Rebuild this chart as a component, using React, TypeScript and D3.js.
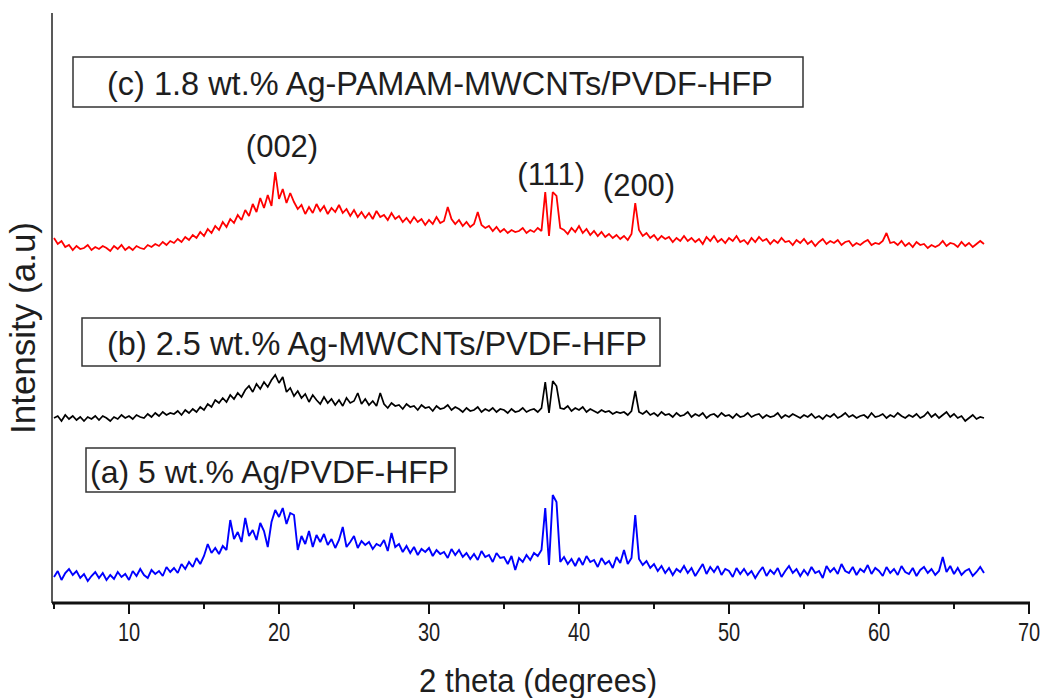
import React from "react";
import * as d3 from "d3";

// 2θ grid of the diffractometer scan (0.25° step, 5° .. 67°)
const thetaStart = 5;
const thetaStep = 0.25;

// (c) 1.8 wt.% Ag-PAMAM-MWCNTs/PVDF-HFP  (red, offset trace)
const seriesC = [
  364, 358, 361, 355,
  357, 352, 356, 353,
  354, 357, 352, 355,
  353, 356, 354, 351,
  356, 353, 357, 352,
  355, 352, 356, 354,
  353, 357, 355, 358,
  356, 360, 357, 361,
  359, 363, 360, 365,
  362, 367, 364, 370,
  366, 373, 369, 376,
  372, 380, 375, 383,
  379, 387, 382, 392,
  386, 398, 390, 404,
  394, 407, 396, 430,
  403, 413, 399, 409,
  400, 393, 397, 388,
  395, 389, 398, 391,
  396, 388, 394, 390,
  397, 389, 393, 386,
  392, 385, 390, 384,
  389, 383, 391, 385,
  387, 382, 389, 383,
  386, 380, 384, 379,
  385, 380, 383, 377,
  382, 378, 385, 379,
  381, 395, 383, 378,
  382, 376, 380, 375,
  378, 390, 377, 374,
  376, 371, 375, 370,
  373, 369, 372, 370,
  371, 374, 369, 372,
  370, 374, 371, 410,
  366, 410, 406, 374,
  372, 368, 374, 370,
  376, 369, 373, 367,
  371, 366, 370, 365,
  368, 364, 367, 363,
  366, 362, 368, 399,
  372, 366, 369, 364,
  367, 362, 366, 363,
  365, 360, 364, 361,
  366, 361, 364, 360,
  363, 358, 365, 361,
  366, 360, 363, 359,
  364, 361, 366, 360,
  362, 358, 364, 360,
  365, 361, 363, 358,
  362, 359, 364, 360,
  361, 357, 362, 359,
  363, 358, 361, 356,
  360, 363, 358, 361,
  359, 362, 357, 360,
  361, 356, 359, 357,
  360, 362, 357, 359,
  358, 361, 369, 359,
  360, 357, 361, 356,
  359, 355, 360, 357,
  358, 354, 357, 355,
  357, 361, 356, 359,
  358, 355, 360, 356,
  359, 355, 358, 361,
  358,
];

// (b) 2.5 wt.% Ag-MWCNTs/PVDF-HFP  (black)
const seriesB = [
  184, 186, 181, 187,
  183, 186, 182, 185,
  181, 185, 183, 186,
  182, 186, 184, 181,
  185, 183, 187, 184,
  186, 183, 187, 185,
  184, 188, 185, 189,
  186, 190, 187, 189,
  188, 191, 187, 192,
  189, 193, 190, 195,
  192, 198, 195, 202,
  199, 204, 200, 207,
  203, 209, 205, 212,
  216, 210, 218, 213,
  220, 215, 222, 227,
  219, 225, 210, 214,
  206, 211, 204, 208,
  200, 207, 202, 198,
  205, 199, 203, 197,
  202, 196, 204, 199,
  201, 209, 198, 203,
  197, 201, 196, 209,
  198, 194, 199, 196,
  197, 193, 198, 195,
  196, 192, 197, 194,
  195, 191, 196, 193,
  194, 197, 192, 195,
  193, 190, 194, 191,
  192, 195, 190, 193,
  191, 194, 190, 193,
  192, 189, 193, 190,
  191, 194, 190, 192,
  193, 190, 194, 220,
  189, 221, 216, 194,
  193, 196, 191, 194,
  192, 195, 190, 193,
  191, 189, 192, 190,
  191, 188, 190, 189,
  190, 187, 191, 211,
  190, 188, 191, 187,
  189, 186, 190, 187,
  188, 185, 189, 186,
  187, 190, 185, 188,
  186, 189, 184, 187,
  188, 185, 189, 186,
  187, 184, 188, 185,
  186, 189, 185, 187,
  188, 184, 187, 185,
  186, 189, 184, 187,
  185, 188, 186, 184,
  187, 185, 188, 184,
  186, 183, 187, 185,
  188, 184, 186, 189,
  185, 187, 184, 186,
  187, 184, 189, 185,
  186, 188, 184, 187,
  185, 189, 186, 184,
  187, 185, 188, 184,
  186, 190, 185, 188,
  184, 187, 190, 185,
  188, 184, 186, 181,
  184, 187, 183, 185,
  184,
];

// (a) 5 wt.% Ag/PVDF-HFP  (blue)
const seriesA = [
  25, 31, 22, 29,
  33, 27, 31, 24,
  28, 21, 26, 30,
  24, 29, 22, 27,
  23, 30, 25, 28,
  22, 31, 26, 33,
  27, 24, 32, 28,
  31, 26, 35, 30,
  34, 29, 38, 33,
  40, 35, 44, 38,
  46, 58, 49, 54,
  48, 56, 52, 82,
  63, 70, 60, 84,
  66, 72, 62, 79,
  71, 55, 80, 92,
  85, 94, 78, 89,
  87, 52, 66, 58,
  71, 55, 67, 60,
  68, 57, 63, 54,
  62, 75, 55, 60,
  66, 54, 61, 57,
  60, 53, 58, 56,
  62, 51, 69, 55,
  58, 50, 56, 49,
  55, 47, 53, 50,
  54, 46, 52, 48,
  50, 44, 53, 47,
  52, 45, 49, 43,
  48, 42, 51, 45,
  47, 40, 49, 44,
  45, 38, 46, 32,
  44, 40, 47, 42,
  49, 46, 52, 94,
  37, 107, 100, 40,
  45, 38, 43, 36,
  44, 37, 46, 40,
  42, 35, 44, 38,
  41, 34, 45, 39,
  52, 38, 44, 87,
  43, 37, 41, 34,
  38, 31, 36, 29,
  34, 27, 33, 30,
  36, 29, 34, 26,
  32, 38, 28, 35,
  30, 36, 27, 33,
  31, 25, 34, 28,
  33, 27, 31, 24,
  30, 35, 26, 32,
  28, 34, 25, 31,
  36, 29, 33, 26,
  32, 27, 35, 29,
  31, 24, 36, 30,
  34, 28, 38, 31,
  29, 35, 27, 33,
  30, 37, 28, 34,
  31, 26, 35, 29,
  33, 27, 36, 30,
  28, 34, 26, 32,
  35, 29, 33, 27,
  31, 45, 30, 36,
  28, 34, 27, 31,
  33, 26, 30, 35,
  29,
];

const majorTicks = [10, 20, 30, 40, 50, 60, 70];
const minorTicks = [5, 15, 25, 35, 45, 55, 65];

const legendLabels = [
  "(c) 1.8 wt.% Ag-PAMAM-MWCNTs/PVDF-HFP",
  "(b) 2.5 wt.% Ag-MWCNTs/PVDF-HFP",
  "(a) 5 wt.% Ag/PVDF-HFP",
];

const peakLabels = ["(002)", "(111)", "(200)"];
const peakPositions = [20.2, 38.15, 44.0];
const peakLabelHeights = [445, 417, 406];

export default function App() {
  const x = d3.scaleLinear().domain([5, 70]).range([54, 1029]);
  const y = d3.scaleLinear().domain([0, 590]).range([602, 12]);
  const twoTheta = seriesA.map((_, i) => thetaStart + i * thetaStep);
  const line = d3
    .line<number>()
    .x((_, i) => x(twoTheta[i]))
    .y((d) => y(d));

  const txt = "#1e1e1e";
  const font = "'Liberation Sans', Arial, sans-serif";
  const axisY = 603;

  return (
    <svg
      width={1041}
      height={698}
      style={{ position: "absolute", left: 0, top: 0, background: "#fff" }}
    >
      <rect x={0} y={0} width={1041} height={698} fill="#fff" />
      {/* traces */}
      <path d={line(seriesA) || ""} fill="none" stroke="#0000ff" strokeWidth={1.9} strokeLinejoin="miter" strokeMiterlimit={2} />
      <path d={line(seriesB) || ""} fill="none" stroke="#000" strokeWidth={1.7} strokeLinejoin="miter" strokeMiterlimit={2} />
      <path d={line(seriesC) || ""} fill="none" stroke="#ff0000" strokeWidth={1.8} strokeLinejoin="miter" strokeMiterlimit={2} />

      {/* axes */}
      <line x1={52} x2={52} y1={13} y2={axisY} stroke="#222" strokeWidth={1.5} />
      <line x1={52} x2={1030} y1={axisY} y2={axisY} stroke="#111" strokeWidth={3} />
      {majorTicks.map((t) => (
        <line key={"M" + t} x1={x(t)} x2={x(t)} y1={axisY} y2={axisY + 11} stroke="#111" strokeWidth={2} />
      ))}
      {minorTicks.map((t) => (
        <line key={"m" + t} x1={x(t)} x2={x(t)} y1={axisY} y2={axisY + 6} stroke="#111" strokeWidth={2} />
      ))}
      {majorTicks.map((t) => (
        <text
          key={"L" + t}
          transform={`translate(${x(t)},641) scale(0.8,1)`}
          textAnchor="middle"
          fontFamily={font}
          fontSize={25}
          fill={txt}
        >
          {t}
        </text>
      ))}
      <text
        transform="translate(538,692) scale(0.92,1)"
        textAnchor="middle"
        fontFamily={font}
        fontSize={34}
        fill={txt}
      >
        2 theta (degrees)
      </text>
      <text
        transform="translate(35,328) rotate(-90)"
        textAnchor="middle"
        fontFamily={font}
        fontSize={35}
        fill={txt}
      >
        Intensity (a.u)
      </text>

      {/* legend boxes */}
      <rect x={73} y={57} width={730} height={50} fill="#fff" stroke="#333" strokeWidth={1.5} />
      <text x={107} y={95} fontFamily={font} fontSize={32.5} fill={txt}>
        {legendLabels[0]}
      </text>
      <rect x={82} y={318} width={578} height={48} fill="#fff" stroke="#333" strokeWidth={1.5} />
      <text x={107} y={355} fontFamily={font} fontSize={32.5} fill={txt}>
        {legendLabels[1]}
      </text>
      <rect x={86} y={448} width={369} height={44} fill="#fff" stroke="#333" strokeWidth={1.5} />
      <text x={90} y={483} fontFamily={font} fontSize={32} fill={txt}>
        {legendLabels[2]}
      </text>

      {/* peak annotations */}
      {peakLabels.map((p, i) => (
        <text
          key={p}
          x={x(peakPositions[i])}
          y={y(peakLabelHeights[i])}
          textAnchor="middle"
          fontFamily={font}
          fontSize={31}
          fill={txt}
        >
          {p}
        </text>
      ))}
    </svg>
  );
}
